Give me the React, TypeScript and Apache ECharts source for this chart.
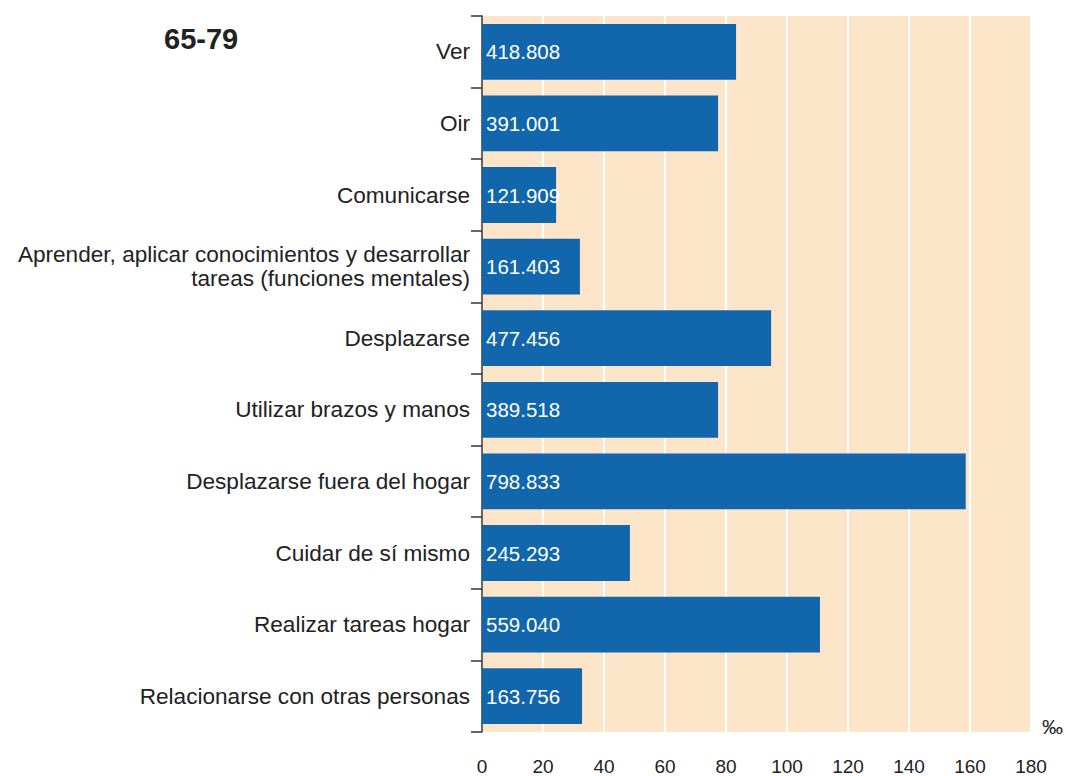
import React, { useEffect, useRef } from "react";
import * as echarts from "echarts";

const categories = [
  "Ver",
  "Oir",
  "Comunicarse",
  "Aprender, aplicar conocimientos y desarrollar\ntareas (funciones mentales)",
  "Desplazarse",
  "Utilizar brazos y manos",
  "Desplazarse fuera del hogar",
  "Cuidar de sí mismo",
  "Realizar tareas hogar",
  "Relacionarse con otras personas",
];
const ratePerMil = [83.3, 77.4, 24.3, 32.1, 94.8, 77.4, 158.6, 48.5, 110.8, 32.8];
const counts = ["418.808", "391.001", "121.909", "161.403", "477.456", "389.518", "798.833", "245.293", "559.040", "163.756"];
const xTicks = { min: 0, max: 180, interval: 20 };
const title = "65-79";
const unit = "‰";

const FONT = "'Liberation Sans', Arial, sans-serif";

export default function App() {
  const ref = useRef<HTMLDivElement>(null);
  useEffect(() => {
    const chart = echarts.init(ref.current!, null, { renderer: "svg" });
    chart.setOption({
      animation: false,
      backgroundColor: "#ffffff",
      textStyle: { fontFamily: FONT },
      grid: {
        left: 482,
        top: 16,
        right: 35,
        bottom: 39,
        show: true,
        backgroundColor: "#fde5c9",
        borderWidth: 0,
      },
      xAxis: {
        type: "value",
        min: xTicks.min,
        max: xTicks.max,
        interval: xTicks.interval,
        axisLine: { show: false },
        axisTick: { show: false },
        splitLine: { show: true, lineStyle: { color: "#ffffff", width: 2 } },
        axisLabel: { color: "#222222", fontSize: 19, margin: 25, fontFamily: FONT },
      },
      yAxis: {
        type: "category",
        data: categories,
        inverse: true,
        axisLine: { show: true, lineStyle: { color: "#333333", width: 1.5 } },
        axisTick: { show: true, length: 11, lineStyle: { color: "#333333", width: 1.5 } },
        axisLabel: {
          color: "#222222",
          fontSize: 22.6,
          margin: 12,
          lineHeight: 24,
          align: "right",
          fontFamily: FONT,
        },
        splitLine: { show: false },
      },
      series: [
        {
          type: "bar",
          data: ratePerMil,
          barCategoryGap: "22%",
          itemStyle: { color: "#1166ac" },
          label: {
            show: true,
            position: "insideLeft",
            offset: [-1, 0],
            color: "#ffffff",
            fontSize: 20.5,
            fontFamily: FONT,
            formatter: (p: any) => counts[p.dataIndex],
          },
        },
      ],
      graphic: [
        {
          type: "text",
          left: 164,
          top: 24,
          style: { text: title, fontSize: 29, fontWeight: "bold", fill: "#222222", fontFamily: FONT },
        },
        {
          type: "text",
          left: 1042,
          top: 716,
          style: { text: unit, fontSize: 21, fill: "#222222", fontFamily: FONT },
        },
      ],
    });
    return () => chart.dispose();
  }, []);
  return <div ref={ref} style={{ width: 1066, height: 776, position: "fixed", left: 0, top: 0 }} />;
}
